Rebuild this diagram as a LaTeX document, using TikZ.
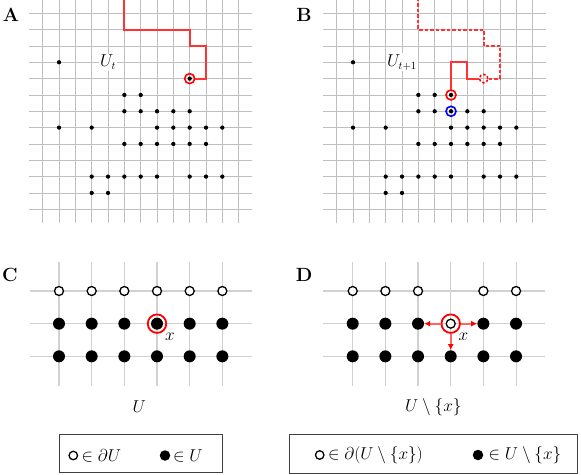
\documentclass[tikz,border=0pt]{standalone}
\usetikzlibrary{arrows.meta}
\begin{document}
\begin{tikzpicture}[x=1bp,y=-1bp,
  font=\fontsize{16}{19}\selectfont,
  gridA/.style={draw=black!25,line width=0.75bp},
  gridC/.style={draw=black!18,line width=1.1bp},
  sdot/.style={circle,fill=black,inner sep=0pt,minimum size=4.3bp},
  bdot/.style={circle,fill=black,inner sep=0pt,minimum size=12bp},
  odot/.style={circle,draw=black,fill=white,line width=1.3bp,inner sep=0pt,minimum size=9bp},
  ringsm/.style={circle,draw=#1,line width=1.6bp,inner sep=0pt,minimum size=10bp},
  ringbig/.style={circle,draw=red,line width=1.8bp,inner sep=0pt,minimum size=18.5bp},
  redpath/.style={draw=red!80,line width=1.9bp},
  reddash/.style={draw=red!80,line width=1.9bp,dash pattern=on 3.5bp off 2bp},
  arr/.style={draw=red!60,line width=1.7bp,-{Latex[red,length=6bp,width=6bp]}},
  panel/.style={font=\fontsize{19.2}{23}\selectfont\bfseries},
  lbl/.style={fill=white,inner sep=1.5bp},
  legbox/.style={draw=black!75,line width=1bp,inner sep=0pt}
]
\useasboundingbox (0,0) rectangle (581,475);
\def\commondots{1/3,5/5,6/5,5/6,6/6,7/6,8/6,9/6,1/7,3/7,7/7,8/7,9/7,10/7,11/7,5/8,6/8,7/8,8/8,9/8,10/8,3/10,4/10,5/10,6/10,7/10,9/10,10/10,11/10,3/11,4/11}

% ---------- Panel A ----------
\node[panel] (pA) at (11,15) {A};
\begin{scope}[shift={(42.7,13.3)},x=16.33bp,y=-16.33bp]
  \foreach \i in {0,...,12} {
    \draw[gridA] (\i,-0.82) -- (\i,12.82);
    \draw[gridA] (-0.82,\i) -- (12.82,\i);
  }
  \node[lbl] (UA) at (4,3) {$U_t$};
  \node[sdot] (a94) at (9,4) {};
  \node[ringsm=red] (ringA) at (9,4) {};
  \coordinate (topA) at (5,-0.82);
  \draw[redpath] (topA) -- (5,1) -- (9,1) -- (9,2) -- (10,2) -- (10,4) -- (ringA);
  \foreach \i/\j in \commondots { \node[sdot] (a\i-\j) at (\i,\j) {}; }
\end{scope}

% ---------- Panel B ----------
\node[panel] (pB) at (304,15) {B};
\begin{scope}[shift={(336.7,13.3)},x=16.33bp,y=-16.33bp]
  \foreach \i in {0,...,12} {
    \draw[gridA] (\i,-0.82) -- (\i,12.82);
    \draw[gridA] (-0.82,\i) -- (12.82,\i);
  }
  \node[lbl] (UB) at (4,3) {$U_{t+1}$};
  \node[sdot] (b75) at (7,5) {};
  \node[ringsm=red] (ringB) at (7,5) {};
  \node[ringsm=blue] (ringBb) at (7,6) {};
  \node[circle,draw=red,line width=1.5bp,dash pattern=on 2.5bp off 2bp,inner sep=0pt,minimum size=8.5bp] (oldB) at (9,4) {};
  \coordinate (topB) at (5,-0.82);
  \draw[redpath] (ringB) -- (7,3) -- (8,3) -- (8,4) -- (oldB);
  \draw[reddash] (oldB) -- (10,4) -- (10,2) -- (9,2) -- (9,1) -- (5,1) -- (topB);
  \foreach \i/\j in \commondots { \node[sdot] (b\i-\j) at (\i,\j) {}; }
\end{scope}

% ---------- Panel C ----------
\node[panel] (pC) at (10,275) {C};
\begin{scope}[shift={(59,291)},x=32.67bp,y=-32.67bp]
  \foreach \i in {0,...,5} { \draw[gridC] (\i,-0.9) -- (\i,2.9); }
  \foreach \j in {0,...,2} { \draw[gridC] (-0.9,\j) -- (5.9,\j); }
  \foreach \i in {0,...,5} {
    \node[odot] (c\i-0) at (\i,0) {};
    \node[bdot] (c\i-1) at (\i,1) {};
    \node[bdot] (c\i-2) at (\i,2) {};
  }
  \node[ringbig] (ringC) at (3,1) {};
\end{scope}
\node (xC) at (170,336.7) {$x$};
\node (UC) at (139.3,406.7) {$U$};

% ---------- Panel D ----------
\node[panel] (pD) at (304,275) {D};
\begin{scope}[shift={(352.7,291)},x=32.67bp,y=-32.67bp]
  \foreach \i in {0,...,5} { \draw[gridC] (\i,-0.9) -- (\i,2.9); }
  \foreach \j in {0,...,2} { \draw[gridC] (-0.9,\j) -- (5.9,\j); }
  \foreach \i in {0,1,2,4,5} {
    \node[odot] (d\i-0) at (\i,0) {};
    \node[bdot] (d\i-1) at (\i,1) {};
  }
  \foreach \i in {0,...,5} { \node[bdot] (d\i-2) at (\i,2) {}; }
  \node[odot] (d3-1) at (3,1) {};
  \node[ringbig] (ringD) at (3,1) {};
  \draw[arr] (ringD) -- (d2-1);
  \draw[arr] (ringD) -- (d4-1);
  \draw[arr] (ringD) -- (d3-2);
\end{scope}
\node (xD) at (463.3,336.7) {$x$};
\node (UD) at (433.3,406.7) {$U\setminus\{x\}$};

% ---------- Legends ----------
\node[legbox,minimum width=163.3bp,minimum height=38.7bp] (legC) at (140.7,453.4) {};
\node[odot,minimum size=8.5bp] (lgCo) at (73.3,455.5) {};
\node[anchor=west,inner sep=0pt] (lgCot) at (81.5,455.5) {$\in \partial U$};
\node[bdot,minimum size=10.5bp] (lgCf) at (165,455.5) {};
\node[anchor=west,inner sep=0pt] (lgCft) at (173,455.5) {$\in U$};

\node[legbox,minimum width=287.3bp,minimum height=39.3bp] (legD) at (433.4,453.7) {};
\node[odot,minimum size=8.5bp] (lgDo) at (319.7,455) {};
\node[anchor=west,inner sep=0pt] (lgDot) at (328,455) {$\in \partial(U\setminus\{x\})$};
\node[bdot,minimum size=10.5bp] (lgDf) at (478,455) {};
\node[anchor=west,inner sep=0pt] (lgDft) at (488.5,455) {$\in U\setminus\{x\}$};
\end{tikzpicture}
\end{document}
